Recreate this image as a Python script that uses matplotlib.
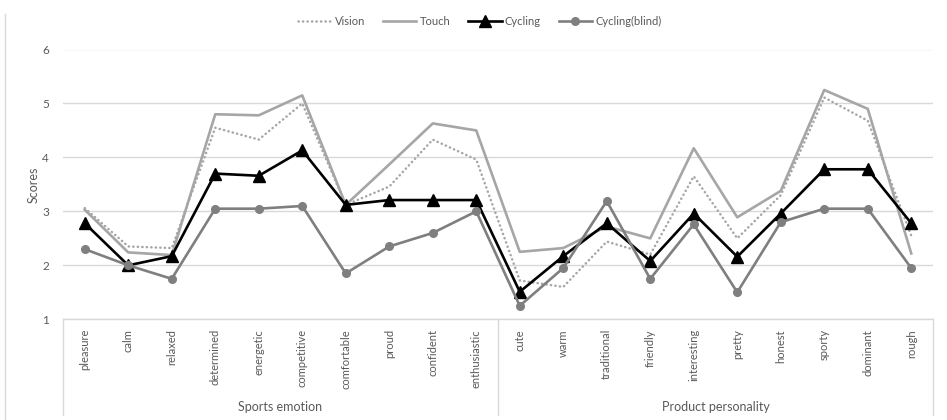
import matplotlib
matplotlib.use("Agg")
import matplotlib.pyplot as plt
import matplotlib.transforms as mtransforms

plt.rcParams['font.family'] = ['Lato', 'DejaVu Sans']

# Categories
sports_emotion = ["pleasure", "calm", "relaxed", "determined", "energetic",
                  "competitive", "comfortable", "proud", "confident", "enthusiastic"]
product_personality = ["cute", "warm", "traditional", "friendly", "interesting",
                       "pretty", "honest", "sporty", "dominant", "rough"]
group_names = ["Sports emotion", "Product personality"]

# Mean scores per condition
vision = [3.06, 2.35, 2.32, 4.55, 4.33, 5.00, 3.12, 3.46, 4.33, 3.96,
          1.72, 1.60, 2.44, 2.20, 3.65, 2.50, 3.30, 5.11, 4.68, 2.55]
touch = [3.03, 2.24, 2.19, 4.80, 4.78, 5.15, 3.12, 3.87, 4.63, 4.50,
         2.25, 2.32, 2.72, 2.50, 4.17, 2.89, 3.38, 5.25, 4.90, 2.22]
cycling = [2.78, 2.00, 2.17, 3.70, 3.66, 4.13, 3.12, 3.21, 3.21, 3.21,
           1.51, 2.17, 2.78, 2.08, 2.96, 2.16, 2.96, 3.78, 3.78, 2.78]
cycling_blind = [2.30, 2.00, 1.75, 3.05, 3.05, 3.10, 1.85, 2.35, 2.60, 3.00,
                 1.25, 1.95, 3.19, 1.75, 2.76, 1.50, 2.80, 3.05, 3.05, 1.95]

y_ticks = [1, 2, 3, 4, 5, 6]

categories = sports_emotion + product_personality
x = list(range(len(categories)))

TEXT = "#595959"
GRID = "#d9d9d9"

W, H = 947, 420
fig = plt.figure(figsize=(W / 100, H / 100), dpi=100)
left, right, top, bottom = 63, 933, 49.5, 319.3
ax = fig.add_axes([left / W, 1 - bottom / H, (right - left) / W, (bottom - top) / H])

ax.plot(x, vision, color="#a6a6a6", lw=1.8, linestyle=(0, (0.1, 1.7)),
        dash_capstyle="round", label="Vision", zorder=3)
ax.plot(x, touch, color="#a6a6a6", lw=1.9, label="Touch", zorder=4)
ax.plot(x, cycling, color="black", lw=1.9, marker="^", markersize=8,
        label="Cycling", zorder=5)
ax.plot(x, cycling_blind, color="#7f7f7f", lw=1.9, marker="o", markersize=5.5,
        label="Cycling(blind)", zorder=6)

ax.set_xlim(-0.5, len(categories) - 0.5)
ax.set_ylim(1, 6)
ax.set_yticks(y_ticks)
ax.set_yticklabels([str(v) for v in y_ticks], color=TEXT, fontsize=8.5)
ax.tick_params(axis="y", length=0, pad=10)
ax.yaxis.grid(True, color=GRID, lw=1)
ax.set_axisbelow(True)
for s in ["top", "right", "left"]:
    ax.spines[s].set_visible(False)
ax.spines["bottom"].set_color(GRID)
ax.spines["bottom"].set_linewidth(1)

ax.set_xticks(x)
ax.set_xticklabels(categories, rotation=90, color=TEXT, fontsize=8, va="top")
ax.tick_params(axis="x", length=0, pad=7)

ax.set_ylabel("Scores", color=TEXT, fontsize=9, labelpad=2)

# Multi-level category frame under the axis
trans = mtransforms.blended_transform_factory(ax.transData, ax.transAxes)
depth = -(415 - bottom) / (bottom - top)
for xv in [-0.5, len(sports_emotion) - 0.5, len(categories) - 0.5]:
    ax.plot([xv, xv], [0, depth], transform=trans, color=GRID, lw=1, clip_on=False)

label_y = -(407 - bottom) / (bottom - top)
n1 = len(sports_emotion)
ax.text((n1 - 1) / 2, label_y, group_names[0], transform=trans, ha="center",
        va="center", color=TEXT, fontsize=9)
ax.text(n1 + (len(product_personality) - 1) / 2, label_y, group_names[1],
        transform=trans, ha="center", va="center", color=TEXT, fontsize=9)

# Chart area border
fig.add_artist(plt.Line2D([5 / W, 5 / W], [0, 1 - 14 / H], color=GRID, lw=1,
                          transform=fig.transFigure))

leg = fig.legend(loc="center", bbox_to_anchor=(480 / W, 1 - 21 / H), ncol=4,
                 frameon=False, fontsize=8, handlelength=3.0, columnspacing=1.6,
                 handletextpad=0.3)
for t in leg.get_texts():
    t.set_color(TEXT)

fig.savefig("out.png", dpi=100)
